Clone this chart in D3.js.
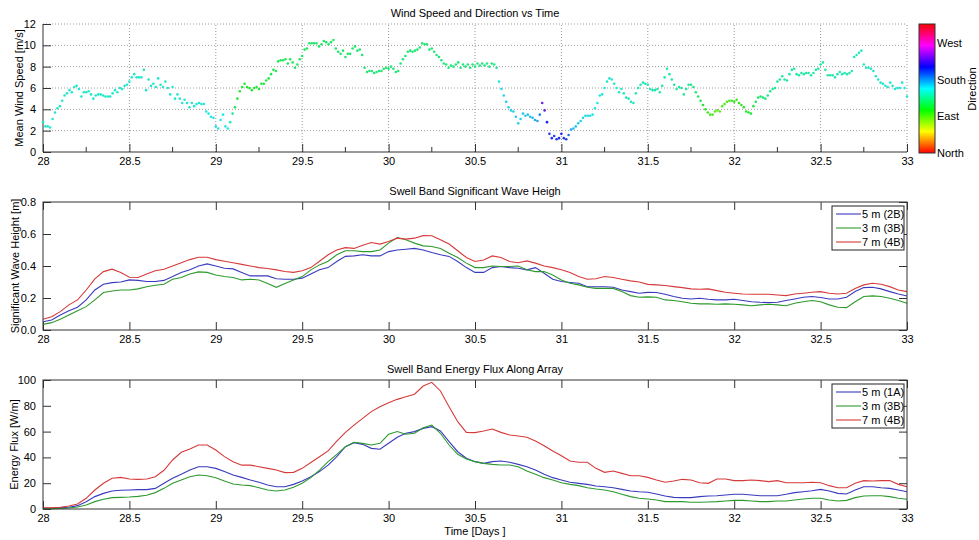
<!DOCTYPE html>
<html>
<head>
<meta charset="utf-8">
<script src="https://cdn.jsdelivr.net/npm/d3@7"></script>
<style>
  body { margin: 0; background: #ffffff; }
  svg { display: block; font-family: "Liberation Sans", Arial, Helvetica, sans-serif; }
</style>
</head>
<body>
<svg id="chart" width="979" height="540"></svg>
<script>
// ---- sampling of the records -------------------------------------------
const windStart = 28;          // day of first wind sample
const windStepDays = 1 / 72;   // 20-minute wind samples
const waveStart = 28;          // day of first wave sample
const waveStepDays = 0.05;     // wave statistics every 0.05 day

// ---- mean wind speed [m/s] ----------------------------------------------
const windSpeed = [
  2.8,2.4,2.4,2.3,3.1,3.7,4.1,4.3,4.8,5.3,
  5.5,5.8,5.6,6.1,6.2,5.9,5.2,5.6,5.6,5.7,
  5.4,5.0,5.3,5.4,5.4,5.3,5.2,5.2,5.2,5.5,
  5.8,5.6,6.0,5.9,6.2,6.3,6.6,7.0,7.3,7.0,
  7.0,7.0,7.7,5.8,6.8,6.2,6.4,6.1,6.9,6.3,
  6.1,6.6,6.0,5.4,6.1,5.0,5.4,5.0,4.6,4.9,
  4.6,4.2,4.6,4.3,4.5,4.6,4.5,4.5,3.8,3.6,
  3.3,3.2,2.4,2.2,3.0,3.5,2.4,2.2,2.8,3.6,
  4.2,5.0,5.7,6.1,6.4,6.1,6.0,5.8,6.0,6.1,
  5.9,6.4,6.4,6.7,6.9,7.3,7.7,7.6,8.5,8.6,
  8.6,8.7,8.3,8.7,8.4,7.9,8.2,8.7,9.0,9.6,
  9.7,10.2,10.2,10.2,10.2,9.9,10.1,10.4,10.3,10.1,
  10.3,10.5,9.7,9.4,9.2,9.5,8.9,9.2,9.2,9.7,
  9.9,9.5,9.6,9.1,7.9,7.5,7.6,7.6,7.4,7.5,
  7.6,7.6,7.8,7.9,7.8,8.0,7.8,7.5,7.6,8.3,
  8.7,9.0,9.4,9.5,9.4,9.5,9.6,9.8,10.2,10.1,
  10.1,9.6,9.7,9.4,9.1,8.9,8.6,8.3,8.2,7.9,
  8.1,8.0,8.2,8.4,7.9,8.2,8.0,8.2,7.9,8.2,
  8.0,8.3,8.1,8.3,8.1,8.3,8.0,8.3,8.2,7.9,
  6.6,5.9,5.3,4.7,4.2,3.9,3.8,3.3,2.7,3.1,
  3.6,3.4,3.5,3.3,3.2,3.0,2.9,3.5,4.6,3.9,
  2.8,1.7,1.3,1.5,1.2,1.3,1.7,1.3,1.2,1.6,
  2.1,2.2,2.4,2.7,2.9,3.2,3.4,3.4,3.4,3.5,
  4.1,4.6,5.3,5.4,6.0,6.6,6.9,6.8,6.4,6.0,
  5.6,5.9,5.5,5.1,5.0,4.7,4.6,5.5,6.0,6.3,
  6.5,6.4,6.3,5.9,5.8,5.8,5.9,5.6,6.2,7.0,
  7.8,7.3,6.8,6.3,5.9,6.1,6.0,5.4,5.9,6.3,
  6.3,6.1,5.6,5.2,4.8,4.4,4.0,3.7,3.5,3.5,
  3.8,3.9,3.8,4.3,4.5,4.7,4.8,4.8,4.7,4.9,
  4.6,4.4,4.2,3.8,3.7,3.6,4.3,4.7,5.1,5.2,
  5.1,5.0,5.3,5.7,5.9,6.0,6.6,6.8,7.1,6.8,
  6.7,7.3,7.7,7.8,7.3,7.2,7.4,7.3,7.4,7.4,
  7.2,7.4,7.7,7.8,8.2,8.4,7.7,7.2,7.2,7.2,
  7.0,7.3,7.5,7.3,7.4,7.3,7.4,7.6,8.9,9.1,
  9.3,9.5,8.2,7.9,7.9,7.8,7.6,7.1,6.8,6.5,
  6.4,6.2,6.1,6.5,6.2,5.9,6.0,6.0,6.5,6.0,
  5.2
];

// ---- wind direction [deg, 0 = North] ------------------------------------
const windDir = [
  152,150,151,153,154,152,150,151,153,152,
  151,152,150,153,152,151,152,154,152,150,
  151,153,152,150,151,152,153,151,150,152,
  153,151,152,150,152,153,151,152,150,151,
  153,152,150,151,152,154,153,151,152,150,
  151,153,152,154,152,151,153,152,154,155,
  153,152,154,155,153,154,156,155,157,156,
  158,157,160,158,159,157,158,156,150,140,
  120,112,110,108,110,111,109,112,110,113,
  111,114,112,115,116,118,117,119,120,122,
  121,120,122,121,123,122,124,123,125,124,
  123,125,124,126,125,124,126,125,127,126,
  125,127,126,128,127,126,128,127,126,128,
  127,126,128,127,129,128,127,129,128,127,
  129,128,127,129,128,130,129,128,127,129,
  128,127,129,128,130,129,128,127,129,128,
  127,129,128,130,129,128,130,129,131,130,
  129,131,130,129,131,130,132,131,130,132,
  131,130,132,131,133,132,131,133,134,138,
  158,162,164,165,164,166,165,167,166,165,
  168,167,169,170,172,175,178,186,232,228,
  212,205,208,203,206,209,214,206,204,192,
  176,172,168,166,165,164,163,162,161,160,
  158,156,155,154,153,152,151,150,150,149,
  149,150,148,149,150,148,147,148,147,146,
  147,146,145,146,144,145,143,144,142,143,
  142,141,142,140,141,139,140,138,139,137,
  136,132,128,122,116,110,104,100,96,92,
  90,88,90,92,94,92,95,97,99,100,
  102,104,106,108,110,113,116,120,124,127,
  130,132,134,135,136,137,138,139,140,139,
  140,141,140,139,141,142,141,140,142,141,
  142,143,142,141,143,144,143,142,144,143,
  144,145,144,143,145,146,145,146,147,148,
  147,149,148,149,150,149,151,150,152,151,
  152,153,152,154,153,155,154,156,155,157,
  158
];

// ---- swell band significant wave height [m] -----------------------------
const hs5m2B = [
  0.052,0.063,0.094,0.12,0.142,0.188,0.25,0.286,0.296,0.30,0.313,0.31,0.303,0.303,0.31,0.334,0.36,0.376,0.40,0.413,
  0.40,0.386,0.382,0.36,0.338,0.338,0.338,0.32,0.317,0.317,0.324,0.35,0.376,0.39,
  0.428,0.46,0.463,0.47,0.463,0.463,0.49,0.50,0.505,0.51,0.50,0.484,0.47,0.46,0.428,0.39,0.36,0.36,0.39,0.397,
  0.39,0.386,0.376,0.39,0.355,0.317,0.303,0.297,0.292,0.27,0.27,0.27,0.267,0.25,0.24,0.23,0.235,
  0.234,0.223,0.209,0.198,0.194,0.198,0.192,0.188,0.188,0.192,0.184,0.177,0.173,0.171,0.173,0.184,0.194,0.205,0.209,0.203,
  0.194,0.194,0.205,0.24,0.265,0.267,0.257,0.24,0.225,0.213
];
const hs3m3B = [
  0.035,0.046,0.067,0.094,0.12,0.146,0.188,0.234,0.244,0.25,0.25,0.257,0.27,0.28,0.286,0.317,0.328,0.35,0.363,0.36,
  0.344,0.334,0.328,0.313,0.317,0.313,0.29,0.267,0.29,0.313,0.334,0.376,0.407,0.43,
  0.47,0.495,0.495,0.49,0.49,0.50,0.543,0.578,0.564,0.543,0.526,0.522,0.51,0.48,0.453,0.418,0.39,0.39,0.40,0.397,
  0.397,0.40,0.376,0.365,0.365,0.344,0.313,0.292,0.282,0.267,0.26,0.26,0.26,0.24,0.215,0.205,0.207,
  0.205,0.188,0.184,0.177,0.167,0.163,0.163,0.161,0.163,0.161,0.157,0.152,0.157,0.161,0.157,0.152,0.167,0.177,0.184,0.177,
  0.157,0.142,0.14,0.177,0.209,0.213,0.209,0.198,0.184,0.167
];
const hs7m4B = [
  0.067,0.083,0.115,0.157,0.188,0.25,0.32,0.365,0.38,0.36,0.33,0.328,0.35,0.37,0.38,0.40,0.42,0.44,0.455,0.455,
  0.44,0.43,0.42,0.41,0.40,0.39,0.384,0.376,0.366,0.36,0.37,0.39,0.43,0.47,
  0.50,0.515,0.51,0.53,0.547,0.537,0.553,0.574,0.568,0.574,0.59,0.589,0.564,0.537,0.495,0.453,0.428,0.438,0.463,0.453,
  0.428,0.42,0.432,0.418,0.40,0.39,0.376,0.36,0.334,0.317,0.32,0.334,0.328,0.317,0.307,0.30,0.285,
  0.282,0.278,0.271,0.265,0.257,0.255,0.257,0.246,0.236,0.23,0.225,0.223,0.223,0.223,0.219,0.215,0.225,0.23,0.236,0.24,
  0.23,0.225,0.23,0.26,0.282,0.292,0.286,0.271,0.25,0.24
];

// ---- swell band energy flux along array [W/m] ---------------------------
const flux5m1A = [
  0.5,0.5,1,1.3,2.6,5.7,9.6,12.1,14,14.5,14.7,15,15,16,19.9,23.8,27,30.2,32.8,32.8,
  31.5,29,26.4,24.5,22.5,20.7,18.6,17.3,17.3,19.1,21.7,25,29,34,
  40.6,48.3,51.4,50.1,47,46.3,51,55.6,58.7,60,62.5,63.8,60.5,52.2,44.4,39.3,36.7,35.4,36.7,37.2,
  36.2,34.6,32.8,30.2,26.9,24.3,22.5,20.7,19.9,19.1,17.8,17.3,16.5,15.2,14,13.4,13,
  11.6,10.1,9,8.8,8.8,9.6,10.1,10.3,10.9,11.4,11.4,10.9,10.3,10.3,10.3,11.4,12.7,13.4,14.2,15.2,
  14,12.1,11.6,14.7,17.3,17.3,16.5,16,14.7,13.4
];
const flux3m3B = [
  0.3,0.3,0.5,0.8,1.5,3.1,5.7,7.5,8.8,9,9.3,9.8,10.6,12.7,16,19.9,22.5,25,26.4,25.8,
  24.3,21.7,19.4,18.6,18.1,16.5,14.7,14,14.7,16.8,19.9,24.3,30.2,36.7,
  42.4,48.3,51.7,50.9,49.6,50.9,57.9,60,57.9,58.7,63,65.1,58.7,49.6,42.4,38.8,36.7,35.4,34.6,34.1,
  34.1,32.8,29.5,26.9,24.3,22.5,20.4,19.1,18.1,16.5,15.5,14.7,13.4,11.4,9.6,8.3,7.8,
  7,5.7,5.7,5.7,5.2,5.2,5.4,5.7,6.2,6.7,6.7,6.2,5.7,5.7,6.2,6.2,7,7.8,8.3,8.3,
  7,6.2,6.7,8.8,10.1,10.3,10.3,9.6,8.3,7.5
];
const flux7m4B = [
  1,1,1.3,2.3,3.9,8.3,14.7,19.9,23.8,24.5,23.3,23,23.3,25,30,38,44,46.5,49.6,49.6,
  45.7,40.6,36.7,34,34,32.8,31.5,30.2,28.2,28.4,31.5,36,40.5,45,
  52.7,59.4,65,70.3,75.5,79.3,82.4,85,87,89,95.3,98.2,91.5,79.3,67.7,59.4,59.2,60.5,62,59.4,
  57.4,56.6,55.6,52.7,49.1,45,41.3,37.2,36.2,36.2,31.5,28.4,29.5,27.6,25.8,25.8,24.5,
  22.5,20.7,21.7,23,22.5,20.4,19.9,23.3,23.3,22,22,22.5,22,21.2,22,20.4,20.4,20.4,20.7,20.4,
  18.1,16.5,16.5,19.9,22,21.7,22,22,19.1,17.3
];

// ---- ticks, labels ------------------------------------------------------
const dayTicks = [28, 28.5, 29, 29.5, 30, 30.5, 31, 31.5, 32, 32.5, 33];
const dayMinorTicks = [28.25, 28.75, 29.25, 29.75, 30.25, 30.75, 31.25, 31.75, 32.25, 32.75];
const windTicks = [0, 2, 4, 6, 8, 10, 12];
const hsTicks = [0, 0.2, 0.4, 0.6, 0.8];
const fluxTicks = [0, 20, 40, 60, 80, 100];
const dirTickValues = [0, 90, 180, 270];
const dirTickLabels = ["North", "East", "South", "West"];
const dirRange = [0, 318];

const hsSeries = [
  { name: "5 m (2B)", values: hs5m2B, color: "#3a3abf" },
  { name: "3 m (3B)", values: hs3m3B, color: "#2e9a2e" },
  { name: "7 m (4B)", values: hs7m4B, color: "#d63a3a" }
];
const fluxSeries = [
  { name: "5 m (1A)", values: flux5m1A, color: "#3a3abf" },
  { name: "3 m (3B)", values: flux3m3B, color: "#2e9a2e" },
  { name: "7 m (4B)", values: flux7m4B, color: "#d63a3a" }
];

// ---- drawing ------------------------------------------------------------
const svg = d3.select("#chart");
const axisColor = "#333333";
const fontSize = 11;
const left = 43, right = 907;
const yLabelPad = 7;   // gap between y tick labels and the axis
const xLabelPad = 5;   // gap between x tick labels and the axis

const x = d3.scaleLinear().domain([28, 33]).range([left, right]);
const yWind = d3.scaleLinear().domain([0, 12]).range([152, 24]);
const yHs = d3.scaleLinear().domain([0, 0.8]).range([330, 202]);
const yFlux = d3.scaleLinear().domain([0, 100]).range([509, 380]);
const yDir = d3.scaleLinear().domain(dirRange).range([153, 24]);

// MATLAB-style hsv colour map over the direction range
const hue = v => (v - dirRange[0]) / (dirRange[1] - dirRange[0]) * 360;
const dotColor = v => d3.hsl(hue(v), 0.8, 0.52).formatHex();
const barColor = v => d3.hsl(hue(v), 1, 0.5).formatHex();

function styleAxis(g) {
  g.select(".domain").remove();
  g.selectAll(".tick line").attr("stroke", axisColor);
  g.selectAll(".tick text").attr("fill", "#000").attr("font-size", fontSize);
}

function title(text, cy) {
  svg.append("text")
    .attr("x", (left + right) / 2).attr("y", cy)
    .attr("text-anchor", "middle").attr("dominant-baseline", "central")
    .attr("font-size", fontSize).attr("fill", "#000")
    .text(text);
}

function yLabel(text, cx, scale) {
  const r = scale.range();
  const cy = (r[0] + r[1]) / 2;
  svg.append("text")
    .attr("transform", `translate(${cx},${cy}) rotate(-90)`)
    .attr("text-anchor", "middle").attr("dominant-baseline", "central")
    .attr("font-size", fontSize).attr("fill", "#000")
    .text(text);
}

// ---------- panel 1 : wind scatter ----------
const p1 = svg.append("g");
const w0 = yWind.range()[0], w1 = yWind.range()[1];

// dotted grid
p1.append("g").selectAll("line").data(windTicks.filter(d => d > 0)).join("line")
  .attr("x1", left).attr("x2", right)
  .attr("y1", d => yWind(d)).attr("y2", d => yWind(d))
  .attr("stroke", "#9a9a9a").attr("stroke-width", 1).attr("stroke-dasharray", "1,2");
p1.append("g").selectAll("line").data(dayTicks.filter(d => d > 28)).join("line")
  .attr("x1", d => x(d)).attr("x2", d => x(d))
  .attr("y1", w0).attr("y2", w1)
  .attr("stroke", "#9a9a9a").attr("stroke-width", 1).attr("stroke-dasharray", "1,2");

// minor day ticks
p1.append("g").selectAll("line").data(dayMinorTicks).join("line")
  .attr("x1", d => x(d)).attr("x2", d => x(d))
  .attr("y1", w0).attr("y2", w0 - 5)
  .attr("stroke", axisColor);

p1.append("g").attr("transform", `translate(0,${w0})`)
  .call(d3.axisBottom(x).tickValues(dayTicks).tickSizeInner(-8).tickSizeOuter(0)
    .tickPadding(xLabelPad).tickFormat(d3.format("")))
  .call(styleAxis);
p1.append("g").attr("transform", `translate(${left},0)`)
  .call(d3.axisLeft(yWind).tickValues(windTicks).tickSizeInner(-8).tickSizeOuter(0)
    .tickPadding(yLabelPad).tickFormat(d3.format("")))
  .call(styleAxis);

p1.append("line").attr("x1", left).attr("x2", right).attr("y1", w0).attr("y2", w0)
  .attr("stroke", axisColor);
p1.append("line").attr("x1", left).attr("x2", left).attr("y1", w0).attr("y2", w1)
  .attr("stroke", axisColor);

p1.append("g").selectAll("circle").data(windSpeed).join("circle")
  .attr("cx", (d, i) => x(windStart + i * windStepDays))
  .attr("cy", d => yWind(d))
  .attr("r", 1.3)
  .attr("fill", (d, i) => dotColor(windDir[i]));

title("Wind Speed and Direction vs Time", 13);
yLabel("Mean Wind Speed [m/s]", 19, yWind);

// colour bar
const defs = svg.append("defs");
const grad = defs.append("linearGradient").attr("id", "dirGrad")
  .attr("x1", 0).attr("y1", 1).attr("x2", 0).attr("y2", 0);
grad.selectAll("stop").data(d3.range(0, 37)).join("stop")
  .attr("offset", d => d / 36)
  .attr("stop-color", d => barColor(dirRange[0] + (dirRange[1] - dirRange[0]) * d / 36));
const cbX = 919, cbW = 16;
svg.append("rect")
  .attr("x", cbX).attr("y", yDir.range()[1])
  .attr("width", cbW).attr("height", yDir.range()[0] - yDir.range()[1])
  .attr("fill", "url(#dirGrad)").attr("stroke", axisColor).attr("stroke-width", 1);
svg.append("g").selectAll("text").data(dirTickValues).join("text")
  .attr("x", cbX + cbW + 2).attr("y", d => yDir(d))
  .attr("dominant-baseline", "central").attr("font-size", fontSize).attr("fill", "#000")
  .text((d, i) => dirTickLabels[i]);
svg.append("text")
  .attr("transform", `translate(972,89) rotate(-90)`)
  .attr("text-anchor", "middle").attr("dominant-baseline", "central")
  .attr("font-size", fontSize).attr("fill", "#000")
  .text("Direction");

// ---------- boxed line panels ----------
function linePanel(yScale, ticks, series, legendTop) {
  const g = svg.append("g");
  const b = yScale.range()[0], t = yScale.range()[1];
  g.append("g").attr("transform", `translate(0,${b})`)
    .call(d3.axisBottom(x).tickValues(dayTicks).tickSizeInner(-8).tickSizeOuter(0)
      .tickPadding(xLabelPad).tickFormat(d3.format("")))
    .call(styleAxis);
  g.append("g").attr("transform", `translate(0,${t})`)
    .call(d3.axisTop(x).tickValues(dayTicks).tickSizeInner(-8).tickSizeOuter(0).tickFormat(""))
    .call(styleAxis);
  g.append("g").attr("transform", `translate(${left},0)`)
    .call(d3.axisLeft(yScale).tickValues(ticks).tickSizeInner(-8).tickSizeOuter(0).tickPadding(yLabelPad))
    .call(styleAxis);
  g.append("g").attr("transform", `translate(${right},0)`)
    .call(d3.axisRight(yScale).tickValues(ticks).tickSizeInner(-8).tickSizeOuter(0).tickFormat(""))
    .call(styleAxis);

  const line = d3.line()
    .x((d, i) => x(waveStart + i * waveStepDays))
    .y(d => yScale(d));
  g.append("g").selectAll("path").data(series).join("path")
    .attr("d", s => line(s.values))
    .attr("fill", "none").attr("stroke", s => s.color).attr("stroke-width", 1.1);

  g.append("rect").attr("x", left).attr("y", t)
    .attr("width", right - left).attr("height", b - t)
    .attr("fill", "none").attr("stroke", axisColor);

  // legend
  const lx = 832, lw = 72, rowH = 14;
  const lg = g.append("g");
  lg.append("rect").attr("x", lx).attr("y", legendTop)
    .attr("width", lw).attr("height", rowH * 3 + 2)
    .attr("fill", "#fff").attr("stroke", "#222");
  const rows = lg.selectAll("g").data(series).join("g")
    .attr("transform", (s, i) => `translate(0,${legendTop + 8 + i * rowH})`);
  rows.append("line").attr("x1", lx + 4).attr("x2", lx + 29).attr("y1", 0).attr("y2", 0)
    .attr("stroke", s => s.color).attr("stroke-width", 1.1);
  rows.append("text").attr("x", lx + 30).attr("y", 0)
    .attr("dominant-baseline", "central").attr("font-size", fontSize).attr("fill", "#000")
    .text(s => s.name);
}

linePanel(yHs, hsTicks, hsSeries, 206);
title("Swell Band Significant Wave Heigh", 191);
yLabel("Significant Wave Height [m]", 15, yHs);

linePanel(yFlux, fluxTicks, fluxSeries, 384);
title("Swell Band Energy Flux Along Array", 369);
yLabel("Energy Flux [W/m]", 14, yFlux);

svg.append("text")
  .attr("x", (left + right) / 2).attr("y", 531)
  .attr("text-anchor", "middle").attr("dominant-baseline", "central")
  .attr("font-size", fontSize).attr("fill", "#000")
  .text("Time [Days ]");
</script>
</body>
</html>
